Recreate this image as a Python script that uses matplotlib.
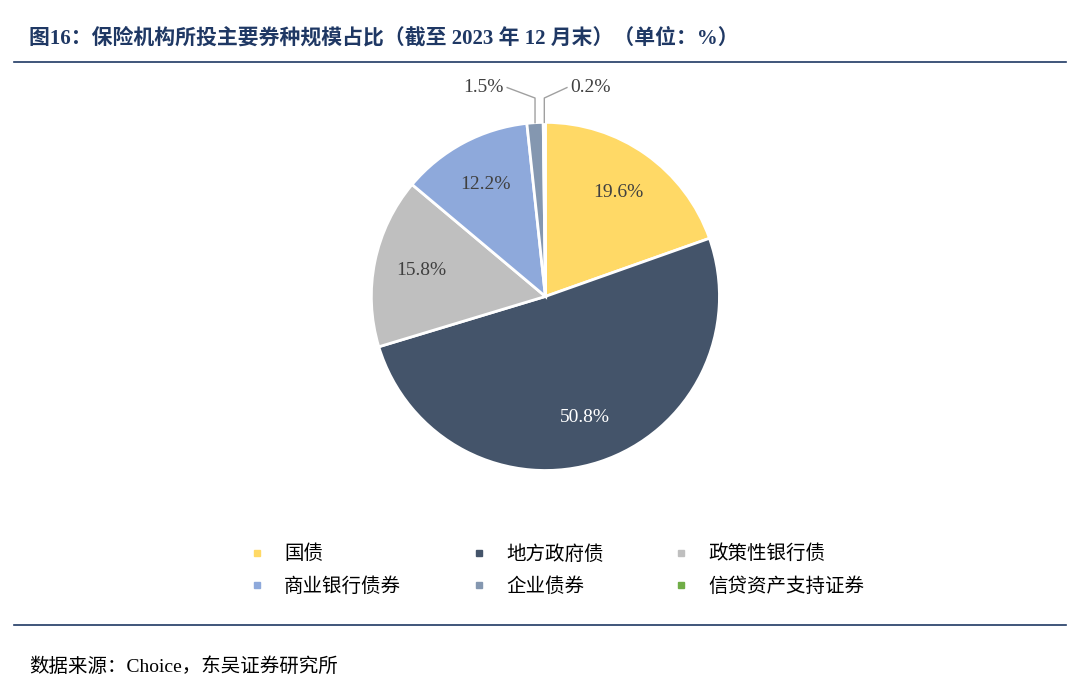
import matplotlib.pyplot as plt
from matplotlib.lines import Line2D
import numpy as np

plt.rcParams["font.family"] = ["Liberation Serif", "Noto Sans CJK SC"]

categories = ["国债", "地方政府债", "政策性银行债", "商业银行债券", "企业债券", "信贷资产支持证券"]
shares = [19.6, 50.8, 15.8, 12.2, 1.5, 0.2]
colors = ["#FFD966", "#44546A", "#BFBFBF", "#8EA9DB", "#8497B0", "#70AD47"]

fig = plt.figure(figsize=(10.8, 6.87), dpi=100)

# title and rules
fig.text(0.027, 0.945, "图16：保险机构所投主要券种规模占比（截至 2023 年 12 月末）（单位：%）",
         fontsize=15, fontweight="bold", color="#1F3864", va="center")
fig.add_artist(Line2D([0.013, 0.987], [0.91, 0.91], color="#1F3864", lw=1.2))
fig.add_artist(Line2D([0.013, 0.987], [0.09, 0.09], color="#1F3864", lw=1.2))
fig.text(0.027, 0.03, "数据来源：Choice，东吴证券研究所", fontsize=14, va="center")

ax = fig.add_axes([0.305, 0.254, 0.4, 0.629])
wedges, _ = ax.pie(shares, colors=colors, startangle=90, counterclock=False,
                   wedgeprops=dict(edgecolor="white", linewidth=2))
ax.set_xlim(-1.241, 1.241)
ax.set_ylim(-1.241, 1.241)
ax.set_aspect("equal")

for w, v in zip(wedges, shares):
    ang = np.deg2rad((w.theta1 + w.theta2) / 2)
    if v >= 5:
        ax.text(0.73 * np.cos(ang), 0.73 * np.sin(ang), f"{v:.1f}%", ha="center",
                va="center", fontsize=14, color="white" if v > 40 else "#404040")

# small slices with leader lines
small = [(wedges[4], shares[4], -0.16, "right"), (wedges[5], shares[5], 0.13, "left")]
for w, v, dx, ha in small:
    ang = np.deg2rad((w.theta1 + w.theta2) / 2)
    x0, y0 = np.cos(ang), np.sin(ang)
    tx, ty = x0 + dx, 1.2
    ax.plot([x0, x0, tx], [y0, 1.14, ty], color="#A0A0A0", lw=1)
    ax.text(tx + (-0.02 if ha == "right" else 0.02), ty, f"{v:.1f}%", ha=ha,
            va="center", fontsize=14, color="#404040")

# legend filled row by row (matplotlib fills by column)
order = [0, 3, 1, 4, 2, 5]
handles = [Line2D([], [], marker="s", ls="", color=colors[i], markersize=4) for i in order]
labels = [categories[i] for i in order]
fig.legend(handles, labels, loc="center", bbox_to_anchor=(0.51, 0.17), ncol=3,
           frameon=False, handletextpad=0.4, columnspacing=3.0,
           labelspacing=0.6, prop={"family": "Noto Sans CJK SC", "size": 14})

fig.savefig("out.png", dpi=100)
